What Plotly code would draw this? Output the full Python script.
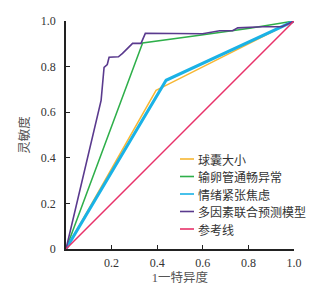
import plotly.graph_objects as go

# Data
names = ["球囊大小", "输卵管通畅异常", "情绪紧张焦虑", "多因素联合预测模型", "参考线"]
colors = ["#F7B733", "#2EAF4A", "#1AB2E6", "#5A3A8E", "#E8326A"]
widths = [1.5, 1.5, 3, 1.6, 1.5]

balloon_x = [0, 0.395, 0.454, 1.0]
balloon_y = [0, 0.696, 0.725, 1.0]

tube_x = [0, 0.336, 0.586, 0.806, 1.0]
tube_y = [0, 0.904, 0.938, 0.968, 1.0]

anxiety_x = [0, 0.439, 1.0]
anxiety_y = [0, 0.740, 1.0]

model_x = [0, 0.079, 0.101, 0.123, 0.145, 0.154, 0.167, 0.181, 0.189, 0.230, 0.248,
           0.292, 0.329, 0.348, 0.599, 0.674, 0.731, 0.753, 0.863, 0.947, 1.0]
model_y = [0, 0.330, 0.419, 0.520, 0.608, 0.652, 0.797, 0.809, 0.841, 0.843, 0.858,
           0.902, 0.902, 0.946, 0.944, 0.957, 0.957, 0.970, 0.975, 0.975, 1.0]

ref_x = [0, 1.0]
ref_y = [0, 1.0]

x_ticks = [0.2, 0.4, 0.6, 0.8, 1.0]
x_ticktext = ["0.2", "0.4", "0.6", "0.8", "1.0"]
y_ticks = [0, 0.2, 0.4, 0.6, 0.8, 1.0]
y_ticktext = ["0", "0.2", "0.4", "0.6", "0.8", "1.0"]

series = [(balloon_x, balloon_y), (tube_x, tube_y), (anxiety_x, anxiety_y),
          (model_x, model_y), (ref_x, ref_y)]

fig = go.Figure()
for (xs, ys), n, c, w in zip(series, names, colors, widths):
    fig.add_trace(go.Scatter(x=xs, y=ys, mode="lines", name=n,
                             line=dict(color=c, width=w), showlegend=False))

# Manual legend (short coloured line + label)
W, H = 335, 286
ml, mr, mt, mb = 66, 41, 21, 37
pw, ph = W - ml - mr, H - mt - mb
leg_y_px = [159, 176.5, 194, 211.5, 229]
for n, c, ypx in zip(names, colors, leg_y_px):
    yp = 1 - (ypx - mt) / ph
    fig.add_shape(type="line", xref="paper", yref="paper",
                  x0=(180 - ml) / pw, x1=(194 - ml) / pw, y0=yp, y1=yp,
                  line=dict(color=c, width=1.6))
    fig.add_annotation(xref="paper", yref="paper", x=(196 - ml) / pw, y=yp, text=n,
                       showarrow=False, xanchor="left", yanchor="middle",
                       font=dict(family="Noto Sans CJK SC", size=12, color="#333333"))

serif = "Liberation Serif, Times New Roman, DejaVu Serif, serif"
fig.update_layout(
    width=W, height=H,
    margin=dict(l=ml, r=mr, t=mt, b=mb),
    paper_bgcolor="white", plot_bgcolor="white",
    showlegend=False,
    xaxis=dict(range=[0, 1.0], tickvals=x_ticks, ticktext=x_ticktext, automargin=False,
               showgrid=False, zeroline=False, showline=True, linecolor="#222222",
               linewidth=1.5, ticks="inside", ticklen=4, tickcolor="#222222",
               ticklabelstandoff=2,
               tickfont=dict(family=serif, size=12, color="#333333"),
               title=dict(text="1一特异度", standoff=1,
                          font=dict(family="Liberation Serif, Noto Sans CJK SC", size=12.5, color="#555555"))),
    yaxis=dict(range=[0, 1.0], tickvals=y_ticks, ticktext=y_ticktext, automargin=False,
               showgrid=False, zeroline=False, showline=True, linecolor="#222222",
               linewidth=1.5, ticks="inside", ticklen=4, tickcolor="#222222",
               ticklabelstandoff=6,
               tickfont=dict(family=serif, size=12, color="#333333"),
               title=dict(text="灵敏度", standoff=8,
                          font=dict(family="Noto Sans CJK SC", size=12.5, color="#555555"))),
)

fig.write_html("out.html", config={"displayModeBar": False},
               post_script="document.body.style.margin='0';document.body.style.overflow='hidden';")
